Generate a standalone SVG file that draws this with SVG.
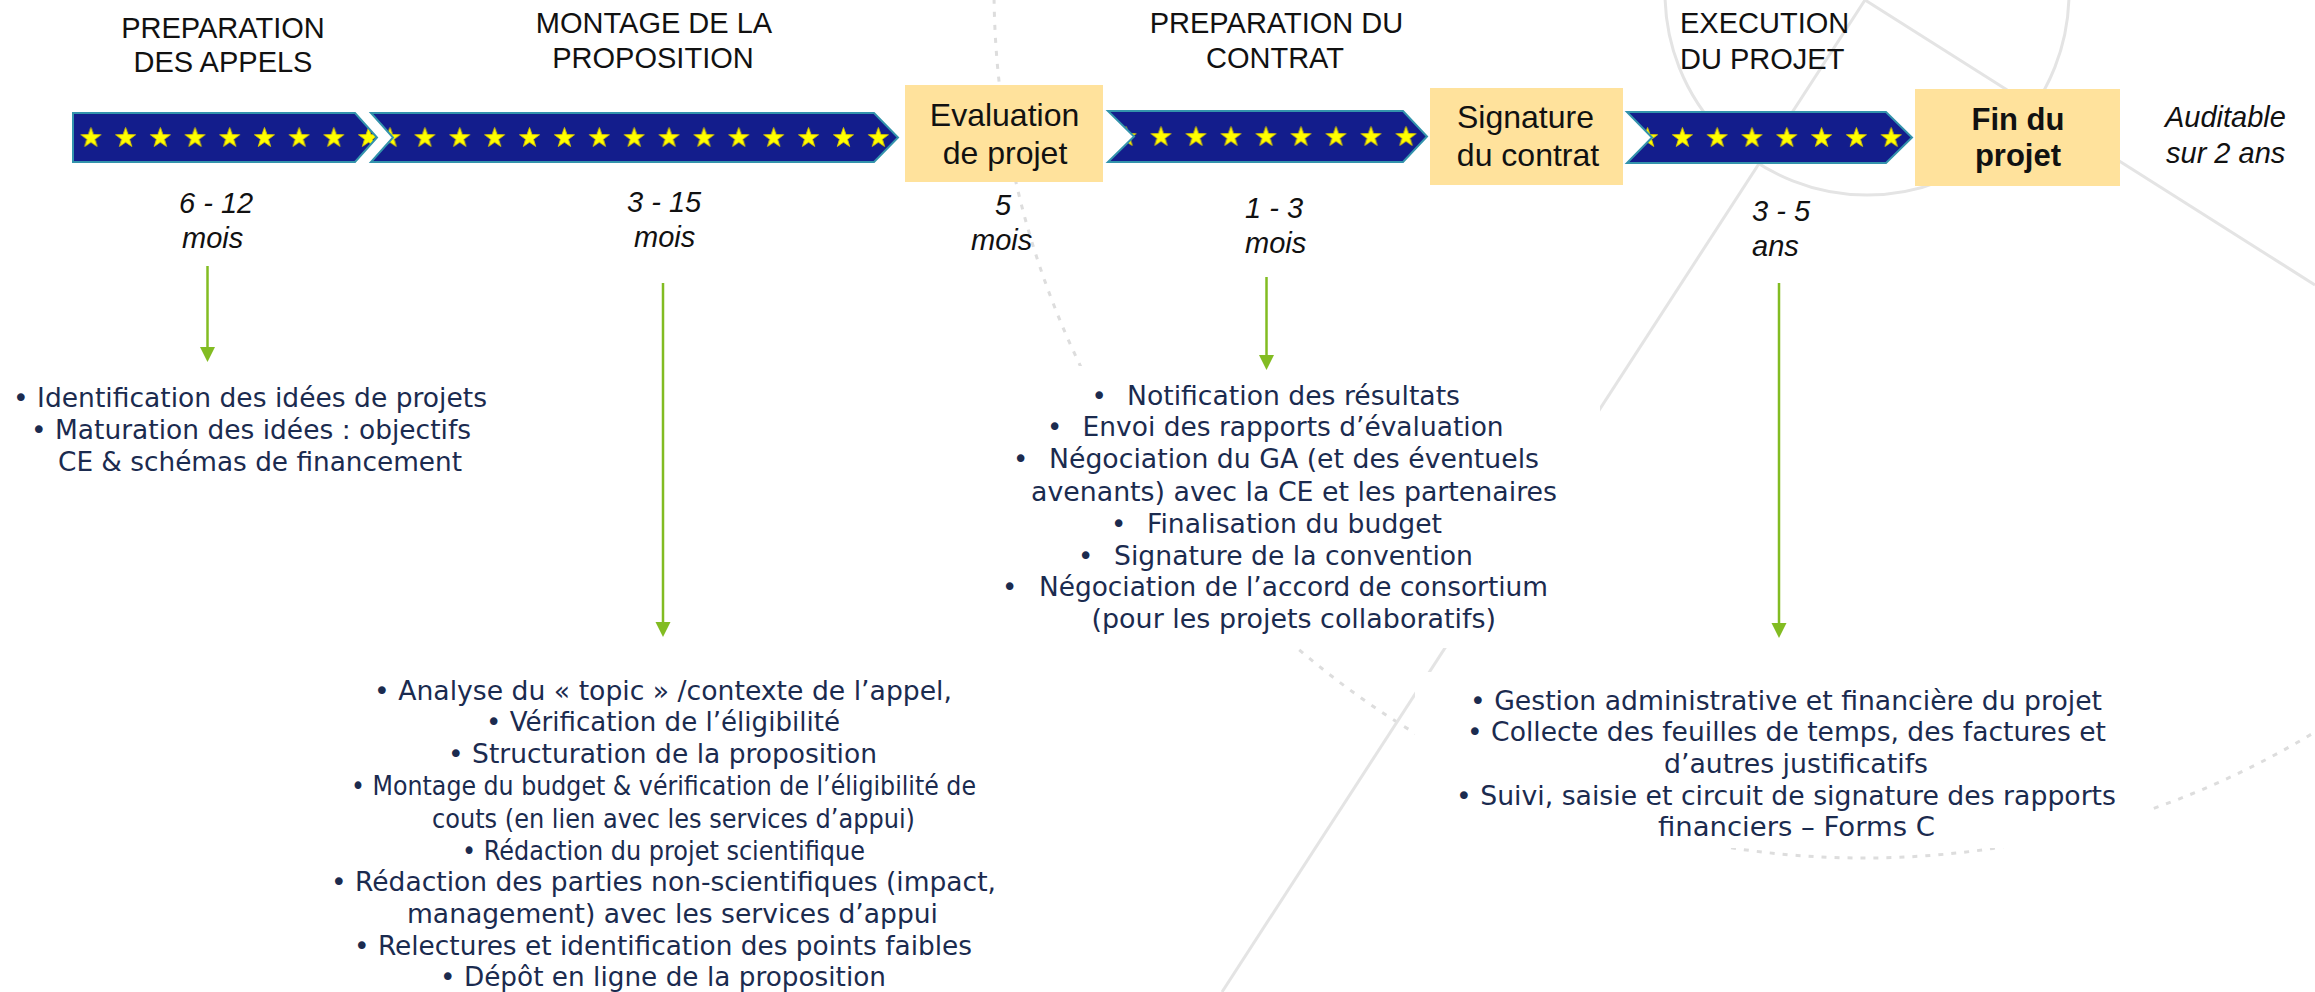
<svg xmlns="http://www.w3.org/2000/svg" xmlns:xlink="http://www.w3.org/1999/xlink" width="2315" height="992" viewBox="0 0 2315 992">
<defs>
<style>
.title{font-family:"Liberation Sans",Arial,sans-serif;font-size:29px;fill:#111111;}
.dur{font-family:"Liberation Sans",Arial,sans-serif;font-size:29px;font-style:italic;fill:#111111;}
.boxt{font-family:"Liberation Sans",Arial,sans-serif;font-size:32px;fill:#111111;text-anchor:middle;}
.boxb{font-family:"Liberation Sans",Arial,sans-serif;font-size:31px;font-weight:bold;fill:#111111;text-anchor:middle;}
.body{font-family:"DejaVu Sans","Noto Sans",sans-serif;font-size:26px;fill:#1B2B4F;}
.chev{fill:#131D8C;}
.chevo{fill:none;stroke:#3393AC;stroke-width:2;stroke-linejoin:miter;}
.box{fill:#FFE29C;}
.panel{fill:#FFFFFF;}
.bgline{fill:none;stroke:#E4E4E4;stroke-width:3;}
.bgdot{fill:none;stroke:#DDDDDD;stroke-width:3;stroke-dasharray:5 8;}
.conn{fill:none;stroke:#82BC22;stroke-width:2.5;}
</style>
<polygon id="star" points="0,-10.5 2.47,-3.4 9.99,-3.24 3.99,1.3 6.17,8.49 0,4.2 -6.17,8.49 -3.99,1.3 -9.99,-3.24 -2.47,-3.4" fill="#FFFF00" stroke="#D8C400" stroke-width="0.9"/>
<pattern id="st1" patternUnits="userSpaceOnUse" x="73.6" y="113" width="34.7" height="60"><use href="#star" x="17.35" y="25"/></pattern>
<pattern id="st2" patternUnits="userSpaceOnUse" x="372.6" y="113" width="34.88" height="60"><use href="#star" x="17.44" y="25"/></pattern>
<pattern id="st3" patternUnits="userSpaceOnUse" x="1108.5" y="111" width="35" height="60"><use href="#star" x="17.5" y="26"/></pattern>
<pattern id="st4" patternUnits="userSpaceOnUse" x="1630.2" y="112" width="34.8" height="60"><use href="#star" x="17.4" y="26"/></pattern>
<marker id="ah" markerUnits="userSpaceOnUse" markerWidth="16" markerHeight="16" viewBox="0 0 16 16" refX="5" refY="8" orient="auto">
<path d="M0,0.5 L15,8 L0,15.5 Z" fill="#82BC22"/>
</marker>
</defs>
<rect x="0" y="0" width="2315" height="992" fill="#FFFFFF"/>

<g id="background">
<circle class="bgdot" cx="1864" cy="-12" r="870"/>
<circle class="bgline" cx="1867" cy="-7" r="202"/>
<line class="bgline" x1="1865" y1="0" x2="1222" y2="992"/>
<line class="bgline" x1="1865" y1="0" x2="2315" y2="285"/>
</g>

<g id="timeline">
<g id="phase-preparation-appels">
<polygon class="chev" points="73,113 355,113 377,137.5 355,162 73,162"/>
<polygon points="73,113 355,113 377,137.5 355,162 73,162" fill="url(#st1)"/>
<polygon class="chevo" points="73,113 355,113 377,137.5 355,162 73,162"/>
<text class="title" x="223" y="38" text-anchor="middle">PREPARATION</text>
<text class="title" x="223" y="72" text-anchor="middle">DES APPELS</text>
<text class="dur" x="179" y="213">6 - 12</text>
<text class="dur" x="182" y="248">mois</text>
</g>
<g id="phase-montage">
<polygon class="chev" points="371,113 874,113 898,137.5 874,162 371,162 393,137.5"/>
<polygon points="371,113 874,113 898,137.5 874,162 371,162 393,137.5" fill="url(#st2)"/>
<polygon class="chevo" points="371,113 874,113 898,137.5 874,162 371,162 393,137.5"/>
<text class="title" x="654" y="33" text-anchor="middle">MONTAGE DE LA</text>
<text class="title" x="653" y="68" text-anchor="middle">PROPOSITION</text>
<text class="dur" x="627" y="212">3 - 15</text>
<text class="dur" x="634" y="247">mois</text>
</g>
<g id="milestone-evaluation">
<rect class="box" x="905" y="85" width="198" height="97"/>
<text class="boxt" x="1004.5" y="126">Evaluation</text>
<text class="boxt" x="1005" y="164">de projet</text>
<text class="dur" x="995" y="215">5</text>
<text class="dur" x="971" y="250">mois</text>
</g>
<g id="phase-contrat">
<polygon class="chev" points="1108,111 1403,111 1427,136.5 1403,162 1108,162 1134,136.5"/>
<polygon points="1108,111 1403,111 1427,136.5 1403,162 1108,162 1134,136.5" fill="url(#st3)"/>
<polygon class="chevo" points="1108,111 1403,111 1427,136.5 1403,162 1108,162 1134,136.5"/>
<text class="title" x="1276.5" y="33" text-anchor="middle">PREPARATION DU</text>
<text class="title" x="1275" y="68" text-anchor="middle">CONTRAT</text>
<text class="dur" x="1245" y="218">1 - 3</text>
<text class="dur" x="1245" y="253">mois</text>
</g>
<g id="milestone-signature">
<rect class="box" x="1430" y="88" width="193" height="97"/>
<text class="boxt" x="1525.5" y="128">Signature</text>
<text class="boxt" x="1528" y="166">du contrat</text>
</g>
<g id="phase-execution">
<polygon class="chev" points="1627,112 1886,112 1912,137.5 1886,163 1627,163 1652,137.5"/>
<polygon points="1627,112 1886,112 1912,137.5 1886,163 1627,163 1652,137.5" fill="url(#st4)"/>
<polygon class="chevo" points="1627,112 1886,112 1912,137.5 1886,163 1627,163 1652,137.5"/>
<text class="title" x="1680" y="33">EXECUTION</text>
<text class="title" x="1680" y="69">DU PROJET</text>
<text class="dur" x="1752" y="221">3 - 5</text>
<text class="dur" x="1752" y="256">ans</text>
</g>
<g id="milestone-fin">
<rect class="box" x="1915" y="89" width="205" height="97"/>
<text class="boxb" x="2018" y="130">Fin du</text>
<text class="boxb" x="2018" y="166">projet</text>
<text class="dur" x="2165" y="127">Auditable</text>
<text class="dur" x="2166" y="163">sur 2 ans</text>
</g>
</g>

<g id="tasks-preparation-appels">
<text class="body" x="13" y="407" textLength="474" lengthAdjust="spacingAndGlyphs">• Identification des idées de projets</text>
<text class="body" x="31" y="439" textLength="440" lengthAdjust="spacingAndGlyphs">• Maturation des idées : objectifs</text>
<text class="body" x="58" y="471" textLength="404" lengthAdjust="spacingAndGlyphs">CE &amp; schémas de financement</text>
</g>

<g id="tasks-montage">
<text class="body" x="374" y="700" textLength="578" lengthAdjust="spacingAndGlyphs">• Analyse du « topic » /contexte de l’appel,</text>
<text class="body" x="486" y="731" textLength="354" lengthAdjust="spacingAndGlyphs">• Vérification de l’éligibilité</text>
<text class="body" x="448" y="763" textLength="429" lengthAdjust="spacingAndGlyphs">• Structuration de la proposition</text>
<text class="body" x="351" y="795" textLength="625" lengthAdjust="spacingAndGlyphs">• Montage du budget &amp; vérification de l’éligibilité de</text>
<text class="body" x="432" y="828" textLength="483" lengthAdjust="spacingAndGlyphs">couts (en lien avec les services d’appui)</text>
<text class="body" x="462" y="860" textLength="403" lengthAdjust="spacingAndGlyphs">• Rédaction du projet scientifique</text>
<text class="body" x="331" y="891" textLength="665" lengthAdjust="spacingAndGlyphs">• Rédaction des parties non-scientifiques (impact,</text>
<text class="body" x="407" y="923" textLength="531" lengthAdjust="spacingAndGlyphs">management) avec les services d’appui</text>
<text class="body" x="354" y="955" textLength="618" lengthAdjust="spacingAndGlyphs">• Relectures et identification des points faibles</text>
<text class="body" x="440" y="986" textLength="446" lengthAdjust="spacingAndGlyphs">• Dépôt en ligne de la proposition</text>
</g>

<g id="tasks-contrat">
<rect class="panel" x="1000" y="366" width="600" height="282"/>
<text class="body" x="1091.5" y="405">•</text>
<text class="body" x="1127" y="405" textLength="333" lengthAdjust="spacingAndGlyphs">Notification des résultats</text>
<text class="body" x="1047" y="436">•</text>
<text class="body" x="1082.6" y="436" textLength="421" lengthAdjust="spacingAndGlyphs">Envoi des rapports d’évaluation</text>
<text class="body" x="1013" y="468">•</text>
<text class="body" x="1049" y="468" textLength="490" lengthAdjust="spacingAndGlyphs">Négociation du GA (et des éventuels</text>
<text class="body" x="1031" y="501" textLength="526" lengthAdjust="spacingAndGlyphs">avenants) avec la CE et les partenaires</text>
<text class="body" x="1111" y="533">•</text>
<text class="body" x="1147" y="533" textLength="295" lengthAdjust="spacingAndGlyphs">Finalisation du budget</text>
<text class="body" x="1078" y="565">•</text>
<text class="body" x="1114" y="565" textLength="359" lengthAdjust="spacingAndGlyphs">Signature de la convention</text>
<text class="body" x="1002" y="596">•</text>
<text class="body" x="1039" y="596" textLength="509" lengthAdjust="spacingAndGlyphs">Négociation de l’accord de consortium</text>
<text class="body" x="1091.5" y="628" textLength="404.5" lengthAdjust="spacingAndGlyphs">(pour les projets collaboratifs)</text>
</g>

<g id="tasks-execution">
<rect class="panel" x="1415" y="672" width="735" height="176"/>
<text class="body" x="1470" y="710" textLength="632" lengthAdjust="spacingAndGlyphs">• Gestion administrative et financière du projet</text>
<text class="body" x="1467" y="741" textLength="639" lengthAdjust="spacingAndGlyphs">• Collecte des feuilles de temps, des factures et</text>
<text class="body" x="1664" y="773" textLength="264" lengthAdjust="spacingAndGlyphs">d’autres justificatifs</text>
<text class="body" x="1456" y="805" textLength="660" lengthAdjust="spacingAndGlyphs">• Suivi, saisie et circuit de signature des rapports</text>
<text class="body" x="1658" y="836" textLength="277" lengthAdjust="spacingAndGlyphs">financiers – Forms C</text>
</g>

<g id="connectors">
<line class="conn" x1="207.5" y1="266" x2="207.5" y2="352" marker-end="url(#ah)"/>
<line class="conn" x1="663" y1="283" x2="663" y2="627" marker-end="url(#ah)"/>
<line class="conn" x1="1266.5" y1="277" x2="1266.5" y2="360" marker-end="url(#ah)"/>
<line class="conn" x1="1779" y1="283" x2="1779" y2="628" marker-end="url(#ah)"/>
</g>
</svg>
